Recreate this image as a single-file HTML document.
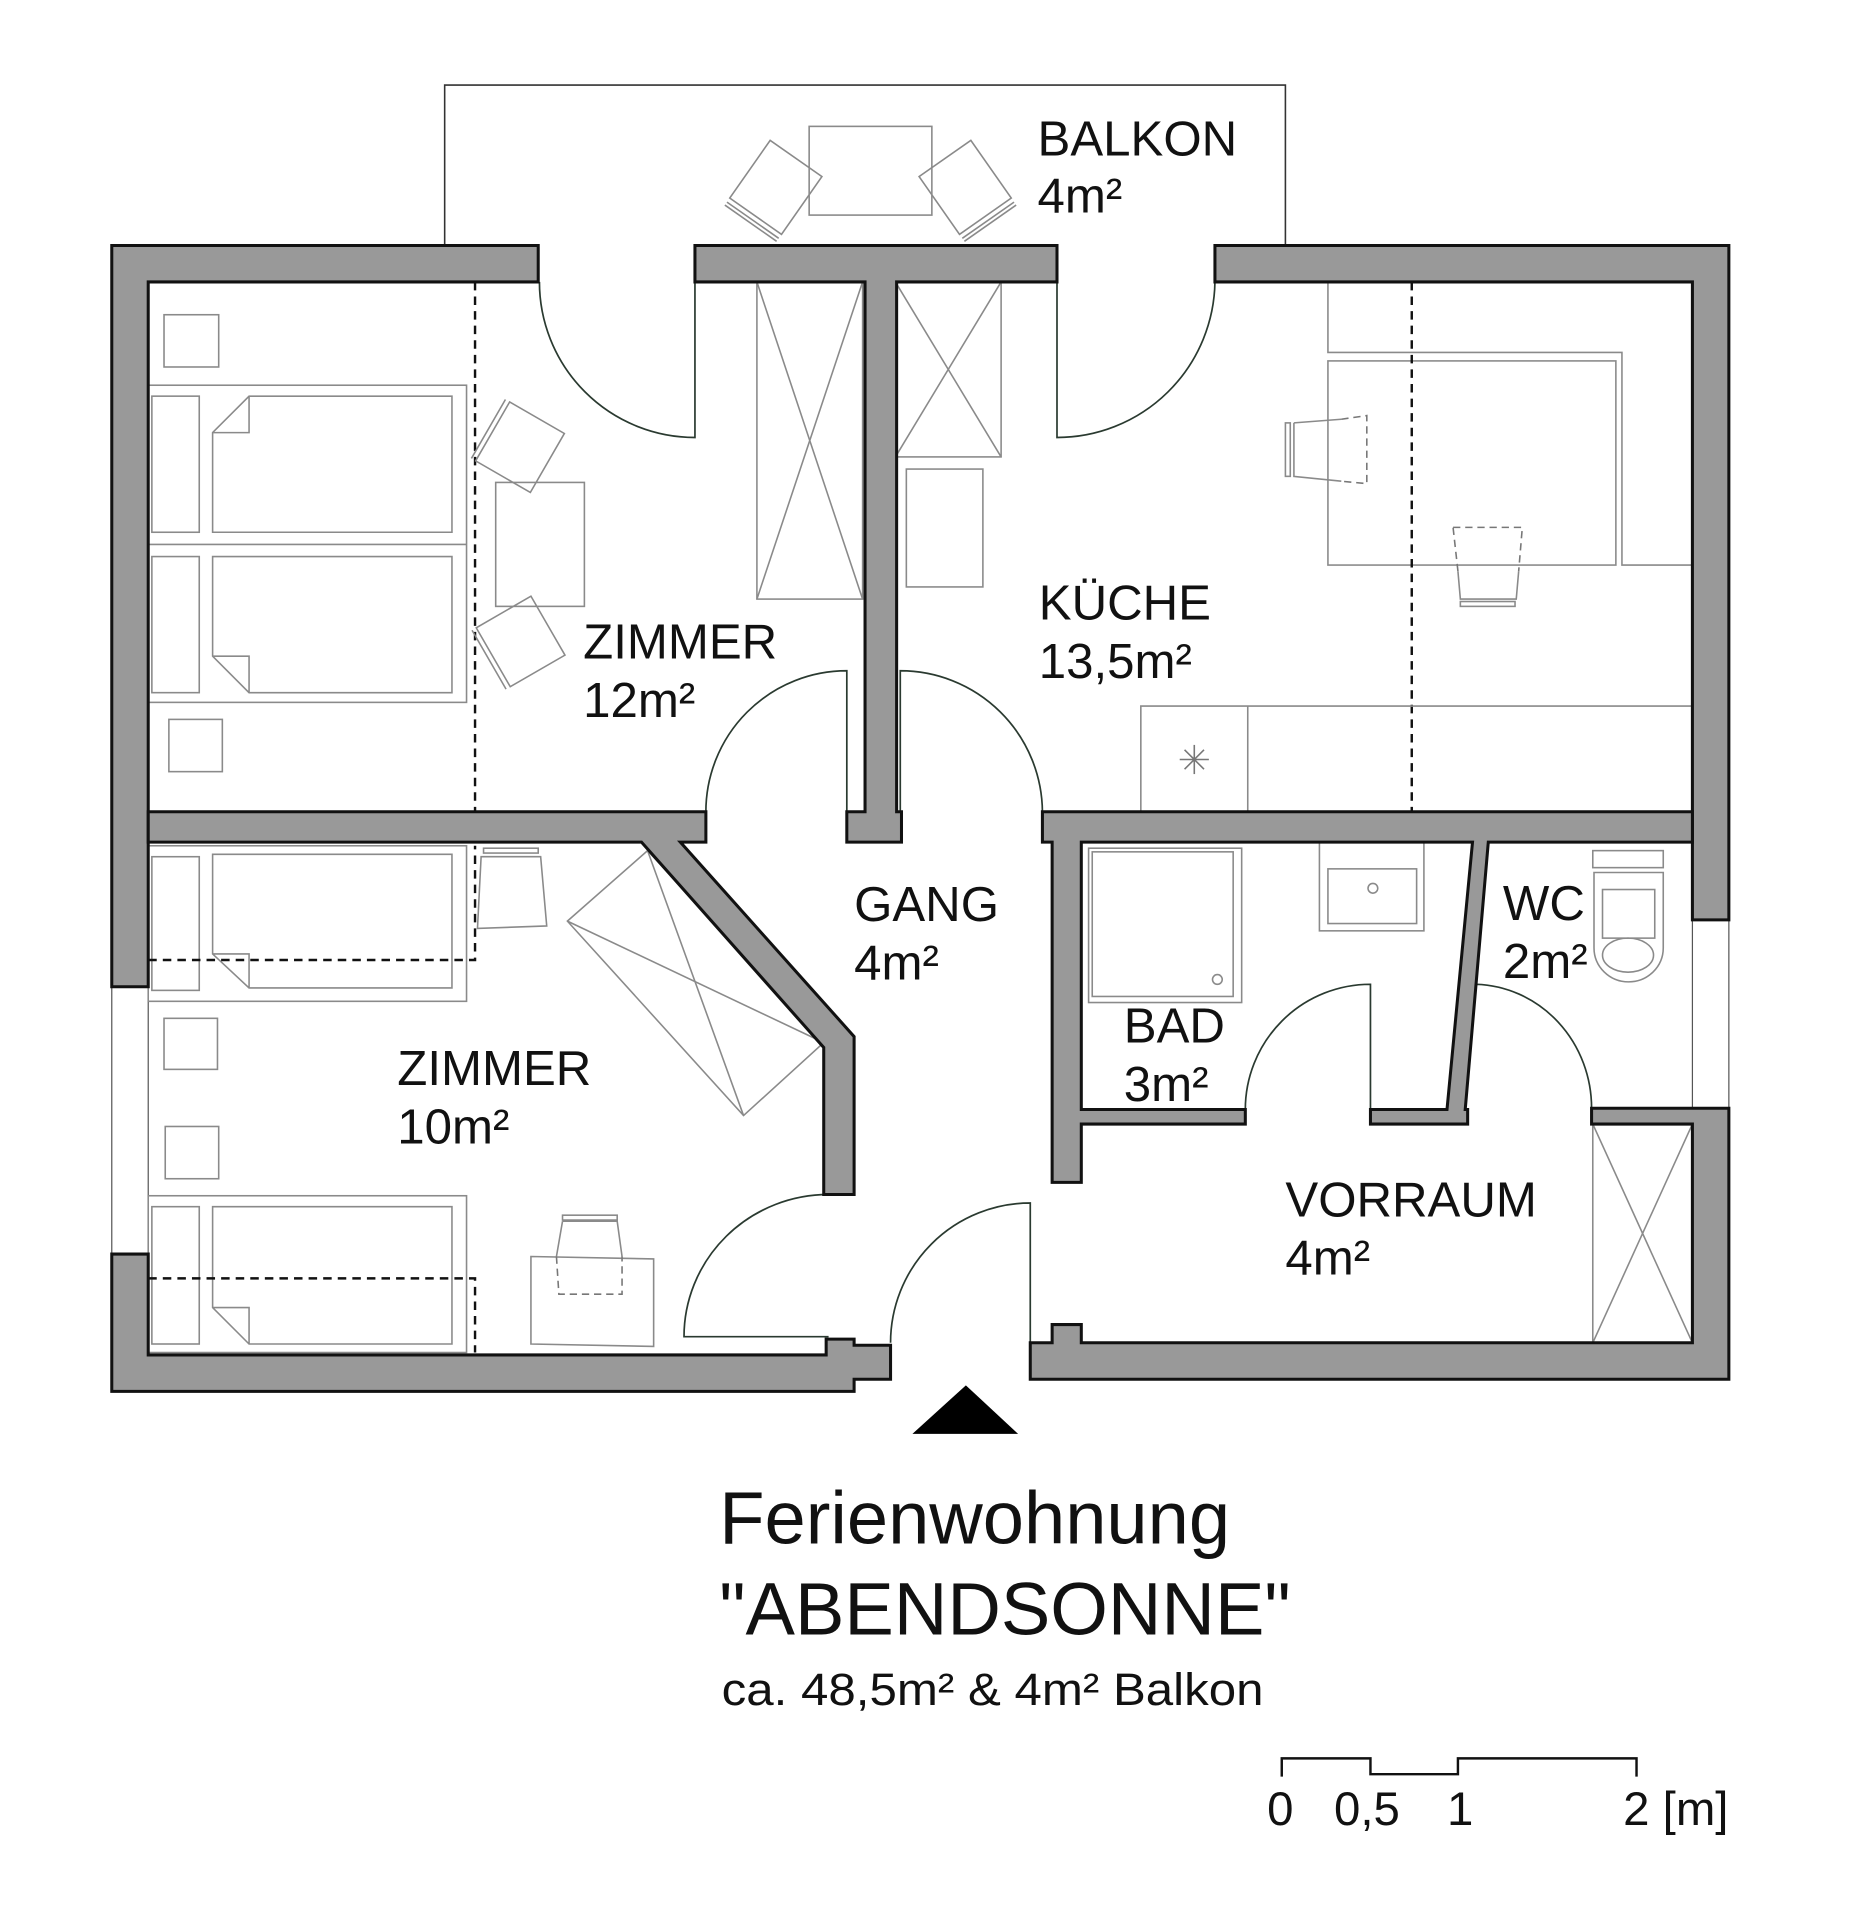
<!DOCTYPE html>
<html><head><meta charset="utf-8"><style>
html,body{margin:0;padding:0;background:#fff}
svg{display:block}
text{font-family:"Liberation Sans",Arial,sans-serif;fill:#111}
.w{fill:#999;stroke:#111;stroke-width:2.5;stroke-linejoin:miter}
.f{fill:none;stroke:#8a8a8a;stroke-width:1.3}
.d{fill:none;stroke:#2a3a30;stroke-width:1.4}
.dash{fill:none;stroke:#111;stroke-width:2;stroke-dasharray:7,5}
.dg{fill:none;stroke:#777;stroke-width:1.3;stroke-dasharray:6,4}
.lb{font-size:40.5px}
</style></head><body>
<svg width="1854" height="1920" viewBox="0 0 1526 1580" preserveAspectRatio="none" xmlns="http://www.w3.org/2000/svg">
<rect width="1526" height="1580" fill="#fff"/>
<!-- balcony -->
<polyline points="366,202 366,70 1058,70 1058,202" fill="none" stroke="#333" stroke-width="1.3"/>
<rect x="666" y="104" width="101" height="73" class="f"/>
<g transform="rotate(35 638 155)"><rect x="612" y="125" width="52" height="58" class="f"/><line x1="612" y1="187" x2="664" y2="187" class="f"/><line x1="612" y1="190" x2="664" y2="190" class="f"/></g>
<g transform="rotate(-35 795 155)"><rect x="769" y="125" width="52" height="58" class="f"/><line x1="769" y1="187" x2="821" y2="187" class="f"/><line x1="769" y1="190" x2="821" y2="190" class="f"/></g>

<!-- windows -->
<rect x="92" y="812" width="30" height="220" fill="none" stroke="#555" stroke-width="1"/>
<rect x="1393" y="757" width="30" height="155" fill="none" stroke="#555" stroke-width="1"/>

<!-- furniture Zimmer 12 -->
<rect x="135" y="259" width="45" height="43" class="f"/>
<rect x="139" y="592" width="44" height="43" class="f"/>
<rect x="122" y="317" width="262" height="261" class="f"/>
<line x1="122" y1="448" x2="384" y2="448" class="f"/>
<rect x="125" y="326" width="39" height="112" class="f"/>
<rect x="125" y="458" width="39" height="112" class="f"/>
<path d="M205,326 L372,326 L372,438 L175,438 L175,356 Z M175,356 L205,356 L205,326" class="f"/>
<path d="M175,458 L372,458 L372,570 L205,570 L175,540 Z M175,540 L205,540 L205,570" class="f"/>
<line x1="391" y1="232" x2="391" y2="668" class="dash"/>
<rect x="408" y="397" width="73" height="102" class="f"/>
<g transform="rotate(30 428 368)"><rect x="402" y="340" width="52" height="56" class="f"/><line x1="398" y1="340" x2="398" y2="396" class="f"/></g>
<g transform="rotate(-30 428 527)"><rect x="402" y="500" width="52" height="56" class="f"/><line x1="398" y1="500" x2="398" y2="556" class="f"/></g>
<rect x="623" y="232" width="87" height="261" class="f"/>
<line x1="623" y1="232" x2="710" y2="493" class="f"/><line x1="710" y1="232" x2="623" y2="493" class="f"/>

<!-- Küche -->
<rect x="737" y="232" width="87" height="144" class="f"/>
<line x1="737" y1="232" x2="824" y2="376" class="f"/><line x1="824" y1="232" x2="737" y2="376" class="f"/>
<rect x="746" y="386" width="63" height="97" class="f"/>
<polyline points="1093,232 1093,290 1335,290 1335,465 1393,465" class="f"/>
<rect x="1093" y="297" width="237" height="168" class="f"/>
<line x1="1162" y1="232" x2="1162" y2="668" class="dash"/>
<path d="M1065,348 L1104,345" class="f"/>
<path d="M1104,345 L1125,342 L1125,398 L1104,396" class="dg"/>
<path d="M1065,348 L1065,392 L1104,396" class="f"/>
<rect x="1058" y="348" width="4" height="44" class="f"/>
<path d="M1196,434 L1253,434 L1250,470 M1200,470 L1196,434" class="dg"/>
<path d="M1200,470 L1202,493 L1248,493 L1250,470" class="f"/>
<rect x="1202" y="495" width="45" height="4" class="f"/>
<polyline points="939,668 939,581 1393,581" class="f"/>
<line x1="1027" y1="581" x2="1027" y2="668" class="f"/>
<g stroke="#777" stroke-width="1.3"><line x1="983" y1="613" x2="983" y2="637"/><line x1="971" y1="625" x2="995" y2="625"/><line x1="975" y1="617" x2="991" y2="633"/><line x1="991" y1="617" x2="975" y2="633"/></g>

<!-- Zimmer 10 -->
<rect x="122" y="696" width="262" height="128" class="f"/>
<rect x="125" y="705" width="39" height="110" class="f"/>
<path d="M175,703 L372,703 L372,813 L205,813 L175,785 Z M175,785 L205,785 L205,813" class="f"/>
<polyline points="122,790 391,790 391,696" class="dash"/>
<path d="M396,705 L445,705 L450,762 L393,764 Z" class="f"/>
<rect x="398" y="698" width="45" height="4" class="f"/>
<rect x="135" y="838" width="44" height="42" class="f"/>
<rect x="136" y="927" width="44" height="43" class="f"/>
<rect x="122" y="984" width="262" height="129" class="f"/>
<rect x="125" y="993" width="39" height="113" class="f"/>
<path d="M175,993 L372,993 L372,1106 L205,1106 L175,1076 Z M175,1076 L205,1076 L205,1106" class="f"/>
<polyline points="122,1052 391,1052 391,1113" class="dash"/>
<path d="M437,1034 L538,1036 L538,1108 L437,1106 Z" class="f"/>
<path d="M463,1005 L508,1005 L512,1034 M458,1034 L463,1005" class="f"/>
<path d="M458,1034 L460,1065 L512,1065 L512,1034" class="dg"/>
<rect x="463" y="1000" width="45" height="4" class="f"/>
<polygon points="467,758 533,700 678,858 612,918" class="f"/>
<line x1="467" y1="758" x2="678" y2="858" class="f"/><line x1="533" y1="700" x2="612" y2="918" class="f"/>

<!-- Bad -->
<rect x="896" y="698" width="126" height="127" class="f"/>
<rect x="899" y="701" width="116" height="119" class="f"/>
<circle cx="1002" cy="806" r="4" class="f"/>
<rect x="1086" y="693" width="86" height="73" class="f"/>
<rect x="1093" y="715" width="73" height="45" class="f"/>
<circle cx="1130" cy="731" r="4" class="f"/>
<!-- WC -->
<rect x="1311" y="700" width="58" height="14" class="f"/>
<path d="M1312,718 L1369,718 L1369,780 A28.5,28 0 0 1 1312,780 Z" class="f"/>
<rect x="1319" y="732" width="43" height="40" class="f"/>
<ellipse cx="1340" cy="786" rx="21" ry="14" class="f"/>
<!-- Vorraum wardrobe -->
<rect x="1311" y="925" width="82" height="180" class="f"/>
<line x1="1311" y1="925" x2="1393" y2="1105" class="f"/><line x1="1393" y1="925" x2="1311" y2="1105" class="f"/>

<!-- doors -->
<path d="M572,232 L572,360 A128,128 0 0 1 444,232" class="d"/>
<path d="M870,232 L870,360 A130,130 0 0 0 1000,232" class="d"/>
<path d="M697,668 L697,552 A116,116 0 0 0 581,668" class="d"/>
<path d="M741,668 L741,552 A117,117 0 0 1 858,668" class="d"/>
<path d="M682,1100 L563,1100 A119,117 0 0 1 682,983" class="d"/>
<path d="M848,1105 L848,990 A115,115 0 0 0 733,1105" class="d"/>
<path d="M1128,913 L1128,810 A103,103 0 0 0 1025,913" class="d"/>
<path d="M1205,913 L1215,810 A98,102 0 0 1 1310,912" class="d"/>

<!-- walls -->
<polygon class="w" points="92,202 443,202 443,232 122,232 122,812 92,812"/>
<polygon class="w" points="572,202 870,202 870,232 738,232 738,668 742,668 742,693 697,693 697,668 712,668 712,232 572,232"/>
<polygon class="w" points="1000,202 1423,202 1423,757 1393,757 1393,232 1000,232"/>
<polygon class="w" points="122,668 581,668 581,693 560,693 703,853 703,983 678,983 678,862 528,693 122,693"/>
<polygon class="w" points="92,1032 122,1032 122,1115 680,1115 680,1102 703,1102 703,1107 733,1107 733,1135 703,1135 703,1145 92,1145"/>
<polygon class="w" points="848,1105 866,1105 866,1090 890,1090 890,1105 1393,1105 1393,925 1310,925 1310,912 1423,912 1423,1135 848,1135"/>
<polygon class="w" points="858,668 1393,668 1393,693 1225,693 1206,913 1208,913 1208,925 1128,925 1128,913 1191,913 1212,693 890,693 890,913 1025,913 1025,925 890,925 890,973 866,973 866,693 858,693"/>

<!-- entrance arrow -->
<polygon points="751,1180 838,1180 795,1140" fill="#000"/>

<!-- labels -->
<text class="lb" x="854" y="128">BALKON</text><text class="lb" x="854" y="175">4m²</text>
<text class="lb" x="480" y="542">ZIMMER</text><text class="lb" x="480" y="590">12m²</text>
<text class="lb" x="855" y="510">KÜCHE</text><text class="lb" x="855" y="558">13,5m²</text>
<text class="lb" x="703" y="758">GANG</text><text class="lb" x="703" y="806">4m²</text>
<text class="lb" x="327" y="893">ZIMMER</text><text class="lb" x="327" y="941">10m²</text>
<text class="lb" x="925" y="858">BAD</text><text class="lb" x="925" y="906">3m²</text>
<text class="lb" x="1237" y="757">WC</text><text class="lb" x="1237" y="805">2m²</text>
<text class="lb" x="1058" y="1001">VORRAUM</text><text class="lb" x="1058" y="1049">4m²</text>

<text x="592" y="1270" font-size="61">Ferienwohnung</text>
<text x="592" y="1345" font-size="61">"ABENDSONNE"</text>
<text x="594" y="1403" font-size="37" textLength="446" lengthAdjust="spacingAndGlyphs">ca. 48,5m² &amp; 4m² Balkon</text>

<!-- scale bar -->
<polyline points="1055,1462 1055,1447 1128,1447 1128,1460 1200,1460 1200,1447 1347,1447 1347,1462" fill="none" stroke="#111" stroke-width="2"/>
<text x="1043" y="1502" font-size="39">0</text>
<text x="1098" y="1502" font-size="39">0,5</text>
<text x="1191" y="1502" font-size="39">1</text>
<text x="1336" y="1502" font-size="39">2 [m]</text>
</svg>
</body></html>
